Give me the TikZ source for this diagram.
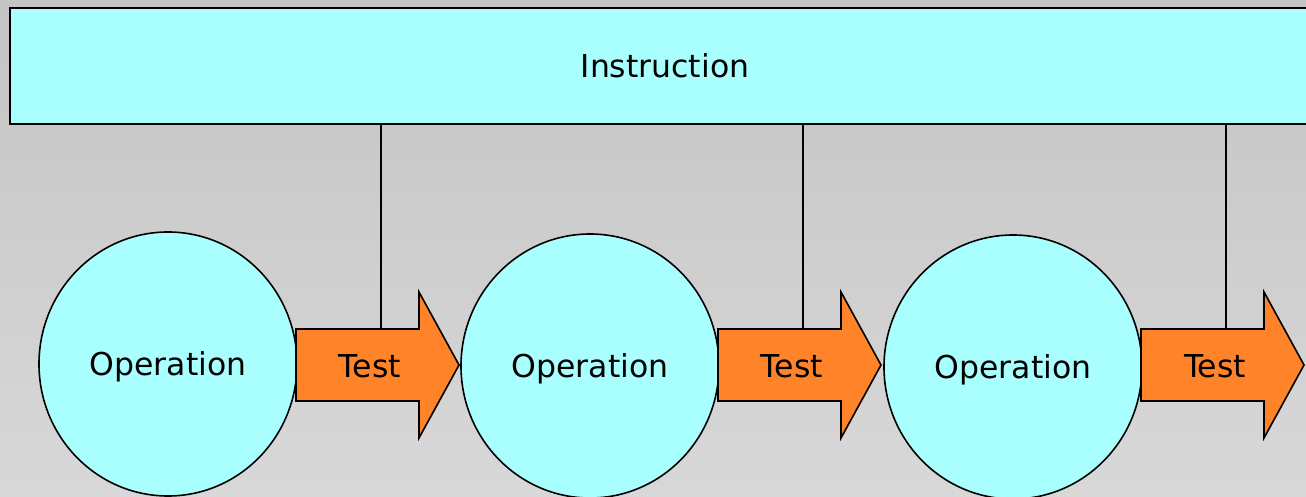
\documentclass[tikz,border=0pt]{standalone}
\usepackage{fontspec}
\setmainfont{DejaVu Sans}
\usetikzlibrary{shapes.geometric}
\definecolor{cyanfill}{HTML}{A8FFFE}
\definecolor{orangefill}{HTML}{FF8329}
\definecolor{bgtop}{HTML}{C4C4C4}
\definecolor{bgbot}{HTML}{D8D8D8}
\begin{document}
\begin{tikzpicture}[x=0.5pt,y=-0.5pt,
  font=\fontsize{15.75}{18}\selectfont,
  txt/.style={text height=11.5pt, text depth=0pt},
  instrbox/.style={draw=black, line width=0.9pt, fill=cyanfill, rectangle, inner sep=0pt,
    minimum width=655pt, minimum height=58pt, txt},
  opnode/.style={draw=black, line width=0.8pt, fill=cyanfill, ellipse, inner sep=0pt,
    minimum width=129pt, minimum height=132pt, txt},
  testarrow/.style={draw=black, line width=0.8pt, fill=orangefill, line join=miter},
  link/.style={draw=black, line width=0.8pt}]
\useasboundingbox (0,0) rectangle (1306,497);
\shade[top color=bgtop, bottom color=bgbot] (0,0) rectangle (1306,497);
\node[instrbox] (instr) at (665,66) {Instruction};
\node[opnode] (op1) at (168,364) {Operation};
\node[opnode] (op2) at (590,366) {Operation};
\node[opnode] (op3) at (1013,367) {Operation};
\foreach \x/\n in {296/1, 718/2, 1141/3}{
  \path[testarrow] (\x,329) -- (\x+123,329) -- (\x+123,292) -- (\x+163,365)
     -- (\x+123,438) -- (\x+123,401) -- (\x,401) -- cycle;
  \node[txt] (t\n) at (\x+74,366) {Test};
  \coordinate (a\n) at (\x+85,329);
}
\foreach \n in {1,2,3}{
  \draw[link] (instr.south -| a\n) -- (a\n);
}
\end{tikzpicture}
\end{document}
